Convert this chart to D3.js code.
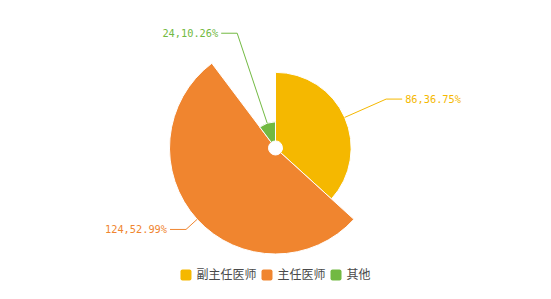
<!DOCTYPE html>
<html>
<head>
<meta charset="utf-8">
<script src="https://cdn.jsdelivr.net/npm/d3@7/dist/d3.min.js"></script>
<style>
    body { margin: 0; background: #fff; }
    .lbl { font-family: "DejaVu Sans Mono", monospace; font-size: 10.3px; }
    .legend text { font-family: "Noto Sans CJK SC", sans-serif; font-size: 12px; fill: #4a4a4a; }
</style>
</head>
<body>
<script>

    var names = ["副主任医师", "主任医师", "其他"];
    var values = [86, 124, 24];
    var colors = ["#f5b800", "#f0852f", "#72b942"];

    var width = 551, height = 299;
    var cx = 275.5, cy = 148;
    var innerR = 7, outerR = 106;
    var labelR = 121, len2 = 16;

    var total = d3.sum(values);
    var rScale = d3.scaleLinear().domain([0, d3.max(values)]).range([innerR, outerR]);

    var svg = d3.select("body").append("svg")
        .attr("width", width)
        .attr("height", height);

    var pie = d3.pie().sort(null).value(function (d) { return d; });
    var arcs = pie(values);

    var g = svg.append("g").attr("transform", "translate(" + cx + "," + cy + ")");

    var arc = d3.arc();

    g.selectAll("path.slice")
        .data(arcs)
        .enter()
        .append("path")
        .attr("class", "slice")
        .attr("d", function (d) {
            return arc({innerRadius: innerR, outerRadius: rScale(d.data),
                startAngle: d.startAngle, endAngle: d.endAngle});
        })
        .style("fill", function (d, i) { return colors[i]; })
        .style("stroke", "#fff")
        .style("stroke-width", 1);

    function pt(a, r) {
        return [r * Math.sin(a), -r * Math.cos(a)];
    }

    arcs.forEach(function (d, i) {
        var mid = (d.startAngle + d.endAngle) / 2;
        var p1 = pt(mid, rScale(d.data));
        var p2 = pt(mid, labelR);
        var right = p2[0] >= 0;
        var p3 = [p2[0] + (right ? len2 : -len2), p2[1]];

        g.append("polyline")
            .attr("points", [p1, p2, p3].map(function (p) { return p.join(","); }).join(" "))
            .style("fill", "none")
            .style("stroke", colors[i])
            .style("stroke-width", 1);

        var pct = (d.data / total * 100).toFixed(2);
        g.append("text")
            .attr("class", "lbl")
            .attr("x", p3[0] + (right ? 3 : -3))
            .attr("y", p3[1])
            .attr("dy", "0.35em")
            .attr("text-anchor", right ? "start" : "end")
            .style("fill", colors[i])
            .text(d.data + "," + pct + "%");
    });

    // legend
    var legend = svg.append("g").attr("class", "legend");
    var x = 0;
    names.forEach(function (n, i) {
        var item = legend.append("g").attr("transform", "translate(" + x + ",0)");
        item.append("rect")
            .attr("x", 0).attr("y", -5.5)
            .attr("width", 11).attr("height", 11)
            .attr("rx", 2)
            .style("fill", colors[i]);
        var t = item.append("text")
            .attr("x", 16)
            .attr("y", 0)
            .attr("dy", "0.36em")
            .text(n);
        x += 16 + t.node().getComputedTextLength() + 5;
    });
    var lw = x - 5;
    legend.attr("transform", "translate(" + (cx - lw / 2) + ",275)");

</script>
</body>
</html>
